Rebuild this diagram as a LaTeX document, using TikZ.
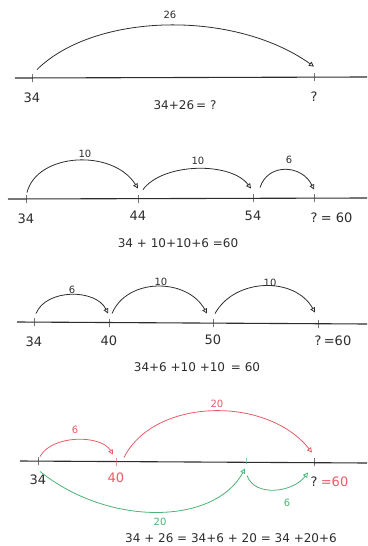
\documentclass[tikz,border=0pt]{standalone}
\usepackage{fontspec}
\setmainfont{DejaVu Sans}
\usetikzlibrary{arrows.meta,positioning}
\definecolor{pen}{RGB}{45,45,45}
\definecolor{jumpred}{RGB}{232,92,102}
\definecolor{jumpgreen}{RGB}{76,178,118}
\tikzset{
  numline/.style={line width=1.1pt, pen},
  tickmark/.style={draw=pen, line width=0.9pt, shape=rectangle, inner sep=0pt,
    minimum width=0pt, minimum height=8pt},
  jump/.style={-{Triangle[open,length=5pt,width=5pt]}, line width=0.8pt, pen},
  ticklabel/.style={below=9pt, inner sep=1pt, text=pen, font=\fontsize{13}{13}\selectfont},
  jumplabel/.style={inner sep=1pt, text=pen, font=\fontsize{10}{10}\selectfont},
  sumlabel/.style={inner sep=1pt, text=pen, font=\fontsize{12}{12}\selectfont},
}

\begin{document}
\begin{tikzpicture}[x=1pt, y=-1pt]
  \useasboundingbox (0,0) rectangle (367,546);

  % Line 1: one jump of 26
  \coordinate (w1) at (15,78);
  \coordinate (e1) at (367,77);
  \draw[numline] (w1) -- (e1);
  \node[tickmark] (t1a) at (32,78) {};
  \node[tickmark] (t1q) at (314,77) {};
  \node[ticklabel] (l1a) at (t1a.south) {34};
  \node[ticklabel] (l1q) at (t1q.south) {?};
  \draw[jump] ([xshift=5pt,yshift=4pt]t1a.north) .. controls +(58,-57) and +(-80,-57) .. ([yshift=6pt]t1q.north);
  \node[jumplabel] (j1) at (170,15) {26};
  \node[sumlabel] (s1) at (185,105) {34+26\,= ?};

  % Line 2: 10, 10, 6
  \coordinate (w2) at (8,199);
  \coordinate (e2) at (367,198);
  \draw[numline] (w2) -- (e2);
  \node[tickmark] (t2a) at (26,199) {};
  \node[tickmark] (t2b) at (138,199) {};
  \node[tickmark] (t2c) at (253,198) {};
  \node[tickmark] (t2q) at (314,198) {};
  \node[ticklabel] (l2a) at (t2a.south) {34};
  \node[ticklabel, below=6pt] (l2b) at (t2b.south) {44};
  \node[ticklabel, below=7pt] (l2c) at (t2c.south) {54};
  \node[ticklabel] (l2q) at (t2q.south) {?};
  \node[ticklabel, anchor=west, below=0pt, right=1pt of l2q] (v2) {= 60};
  \draw[jump] ([xshift=1pt,yshift=2pt]t2a.north) .. controls +(10,-40) and +(-25,-40) .. ([yshift=6pt]t2b.north);
  \draw[jump] ([xshift=5pt,yshift=5pt]t2b.north) .. controls +(20,-27) and +(-20,-27) .. ([xshift=-2pt,yshift=5pt]t2c.north);
  \draw[jump] ([xshift=7pt,yshift=6pt]t2c.north) .. controls +(8,-25) and +(-12,-25) .. ([yshift=4pt]t2q.north);
  \node[jumplabel] (j2a) at (85,154) {10};
  \node[jumplabel] (j2b) at (198,161) {10};
  \node[jumplabel] (j2c) at (289,160) {6};
  \node[sumlabel] (s2) at (178,243) {34 + 10+10+6 =60};

  % Line 3: 6, 10, 10
  \coordinate (w3) at (17,322);
  \coordinate (e3) at (367,324);
  \draw[numline] (w3) -- (e3);
  \node[tickmark] (t3a) at (34,322) {};
  \node[tickmark] (t3b) at (109,323) {};
  \node[tickmark] (t3c) at (213,323) {};
  \node[tickmark] (t3q) at (318,324) {};
  \node[ticklabel] (l3a) at (t3a.south) {34};
  \node[ticklabel, below=7pt] (l3b) at (t3b.south) {40};
  \node[ticklabel, below=6pt] (l3c) at (t3c.south) {50};
  \node[ticklabel, below=6pt] (l3q) at (t3q.south) {?};
  \node[ticklabel, anchor=west, below=0pt, right=0pt of l3q] (v3) {=60};
  \draw[jump] ([xshift=2pt,yshift=4pt]t3a.north) .. controls +(10,-25) and +(-12,-25) .. ([xshift=-1pt,yshift=5pt]t3b.north);
  \draw[jump] ([xshift=3pt,yshift=5pt]t3b.north) .. controls +(15,-36) and +(-20,-36) .. ([xshift=-6pt,yshift=5pt]t3c.north);
  \draw[jump] ([xshift=2pt,yshift=5pt]t3c.north) .. controls +(20,-36) and +(-20,-36) .. ([xshift=-3pt,yshift=7pt]t3q.north);
  \node[jumplabel] (j3a) at (72,290) {6};
  \node[jumplabel] (j3b) at (161,282) {10};
  \node[jumplabel] (j3c) at (270,283) {10};
  \node[sumlabel] (s3) at (197,367) {34+6 +10 +10 \,= 60};

  % Line 4: red above, green below
  \coordinate (w4) at (20,461);
  \coordinate (e4) at (367,463);
  \draw[numline] (w4) -- (e4);
  \node[tickmark] (t4a) at (38,461) {};
  \node[tickmark, draw=jumpred] (t4b) at (116,462) {};
  \node[tickmark, draw=jumpgreen, minimum height=6pt] (t4c) at (246,461) {};
  \node[tickmark] (t4q) at (314,462) {};
  \node[ticklabel, below=8pt] (l4a) at (t4a.south) {34};
  \node[ticklabel, below=5pt, text=jumpred] (l4b) at (t4b.south) {40};
  \node[ticklabel] (l4q) at (t4q.south) {?};
  \node[ticklabel, text=jumpred, anchor=west, below=0pt, right=1pt of l4q] (v4) {=60};
  \draw[jump, jumpred] ([xshift=2pt,yshift=0pt]t4a.north) .. controls +(12,-22) and +(-12,-20) .. ([xshift=-3pt,yshift=3pt]t4b.north);
  \draw[jump, jumpred] ([xshift=8pt,yshift=0pt]t4b.north) .. controls +(30,-60) and +(-45,-57) .. ([xshift=-2pt,yshift=5pt]t4q.north);
  \draw[jump, jumpgreen] ([xshift=2pt,yshift=-6pt]t4a.south) .. controls +(70,56) and +(-30,56) .. ([xshift=-1pt,yshift=-4pt]t4c.south);
  \draw[jump, jumpgreen] ([xshift=1pt,yshift=-18pt]t4c.north) .. controls +(8,22) and +(-15,20) .. ([xshift=-6pt,yshift=-6pt]t4q.south);
  \node[jumplabel, text=jumpred] (j4a) at (75,430) {6};
  \node[jumplabel, text=jumpred] (j4b) at (217,404) {20};
  \node[jumplabel, text=jumpgreen] (j4c) at (160,522) {20};
  \node[jumplabel, text=jumpgreen] (j4d) at (287,503) {6};
  \node[sumlabel] (s4) at (231,538) {34 + 26 = 34+6 + 20 = 34 +20+6};
\end{tikzpicture}
\end{document}
